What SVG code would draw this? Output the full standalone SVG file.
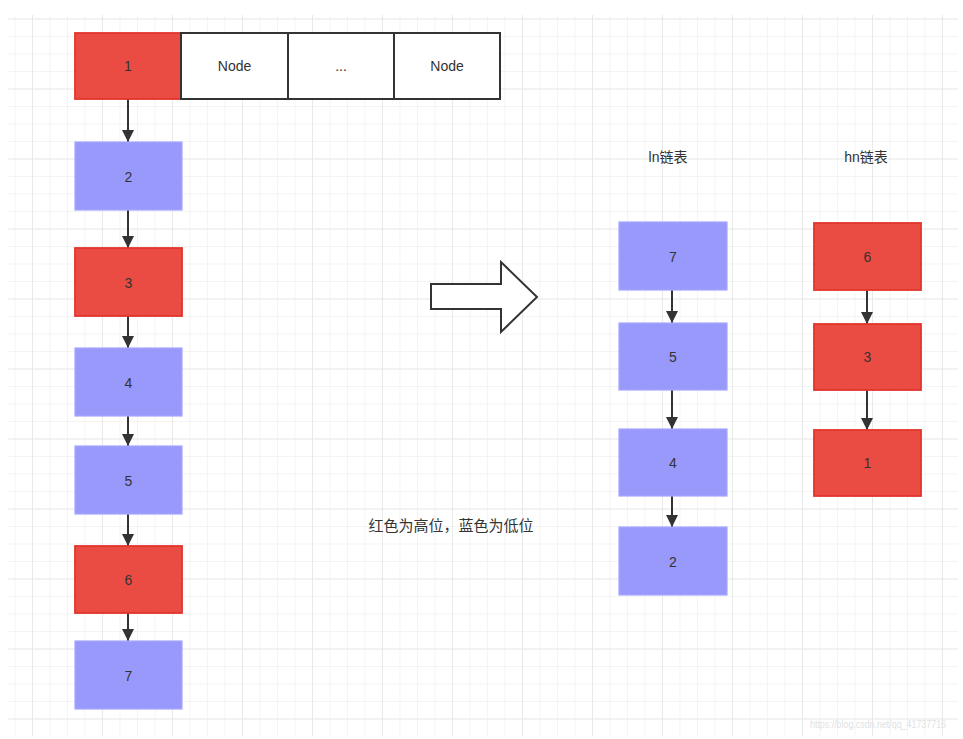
<svg xmlns="http://www.w3.org/2000/svg" width="963" height="739" viewBox="0 0 963 739">
<style>
.t{font-family:"Liberation Sans",Arial,"Noto Sans CJK SC",sans-serif;font-size:14px;fill:#333;text-anchor:middle;dominant-baseline:central}
.red{fill:#ea4b43;stroke:#e3352c;stroke-width:1.8}
.blue{fill:#9999fb;stroke:#a6a6ff;stroke-width:1.2}
.wht{fill:#fff;stroke:#333;stroke-width:2}
.edge{stroke:#333;stroke-width:2;fill:none;marker-end:url(#ah)}
</style>
<defs>
<pattern id="minor" x="14.5" y="18.5" width="17.5" height="17.5" patternUnits="userSpaceOnUse">
<path d="M0 0V17.5M0 0H17.5" stroke="#f1f1f1" stroke-width="1.5" fill="none"/>
</pattern>
<pattern id="major" x="32" y="18.5" width="70" height="70" patternUnits="userSpaceOnUse">
<path d="M0 0V70M0 0H70" stroke="#e6e6e6" stroke-width="1.6" fill="none"/>
</pattern>
<marker id="ah" viewBox="0 0 10 10" refX="10" refY="5" markerWidth="6" markerHeight="6" orient="auto" markerUnits="strokeWidth">
<path d="M0 0L10 5L0 10z" fill="#333"/>
</marker>
</defs>
<rect width="963" height="739" fill="#fff"/>
<rect x="8" y="15" width="950" height="721" fill="url(#minor)"/>
<rect x="8" y="15" width="950" height="721" fill="url(#major)"/>

<g id="connectors">
<path class="edge" d="M128 99V142"/>
<path class="edge" d="M128 210V248"/>
<path class="edge" d="M128 316V348"/>
<path class="edge" d="M128 416V446"/>
<path class="edge" d="M128 514V546"/>
<path class="edge" d="M128 613V641"/>
<path class="edge" d="M672 290V323"/>
<path class="edge" d="M672 390V429"/>
<path class="edge" d="M672 496V527"/>
<path class="edge" d="M867 290V324"/>
<path class="edge" d="M867 390V430"/>
</g>

<g id="arr1"><rect class="red" x="75" y="33" width="106" height="66"/><text class="t" x="128" y="66">1</text></g>
<g id="arrNode1"><rect class="wht" x="181" y="33" width="107" height="66"/><text class="t" x="234.5" y="66">Node</text></g>
<g id="arrDots"><rect class="wht" x="288" y="33" width="106" height="66"/><text class="t" x="341" y="66">...</text></g>
<g id="arrNode2"><rect class="wht" x="394" y="33" width="106" height="66"/><text class="t" x="447" y="66">Node</text></g>

<g id="n2"><rect class="blue" x="75" y="142" width="107" height="68"/><text class="t" x="128.5" y="177">2</text></g>
<g id="n3"><rect class="red" x="75" y="248" width="107" height="68"/><text class="t" x="128.5" y="283">3</text></g>
<g id="n4"><rect class="blue" x="75" y="348" width="107" height="68"/><text class="t" x="128.5" y="383">4</text></g>
<g id="n5"><rect class="blue" x="75" y="446" width="107" height="68"/><text class="t" x="128.5" y="481">5</text></g>
<g id="n6"><rect class="red" x="75" y="546" width="107" height="67"/><text class="t" x="128.5" y="580">6</text></g>
<g id="n7"><rect class="blue" x="75" y="641" width="107" height="68"/><text class="t" x="128.5" y="676">7</text></g>

<g id="bigArrow"><path d="M431 284H501V262L537 297L501 332V309H431Z" fill="#fff" stroke="#333" stroke-width="2" stroke-linejoin="miter"/></g>

<g id="lnLabel"><text class="t" x="668" y="157">ln链表</text></g>
<g id="hnLabel"><text class="t" x="866" y="157">hn链表</text></g>

<g id="l7"><rect class="blue" x="619" y="222" width="108" height="68"/><text class="t" x="673" y="257">7</text></g>
<g id="l5"><rect class="blue" x="619" y="323" width="108" height="67"/><text class="t" x="673" y="357">5</text></g>
<g id="l4"><rect class="blue" x="619" y="429" width="108" height="67"/><text class="t" x="673" y="463">4</text></g>
<g id="l2"><rect class="blue" x="619" y="527" width="108" height="68"/><text class="t" x="673" y="562">2</text></g>

<g id="h6"><rect class="red" x="814" y="223" width="107" height="67"/><text class="t" x="867.5" y="257">6</text></g>
<g id="h3"><rect class="red" x="814" y="324" width="107" height="66"/><text class="t" x="867.5" y="357">3</text></g>
<g id="h1"><rect class="red" x="814" y="430" width="107" height="66"/><text class="t" x="867.5" y="463">1</text></g>

<g id="note"><text class="t" x="451" y="525" style="font-size:15px">红色为高位，蓝色为低位</text></g>
<text x="810" y="728" textLength="136" lengthAdjust="spacingAndGlyphs" style="font-family:'Liberation Sans',Arial,sans-serif;font-size:10px;fill:#e2e2e2">https://blog.csdn.net/qq_41737716</text>
</svg>
